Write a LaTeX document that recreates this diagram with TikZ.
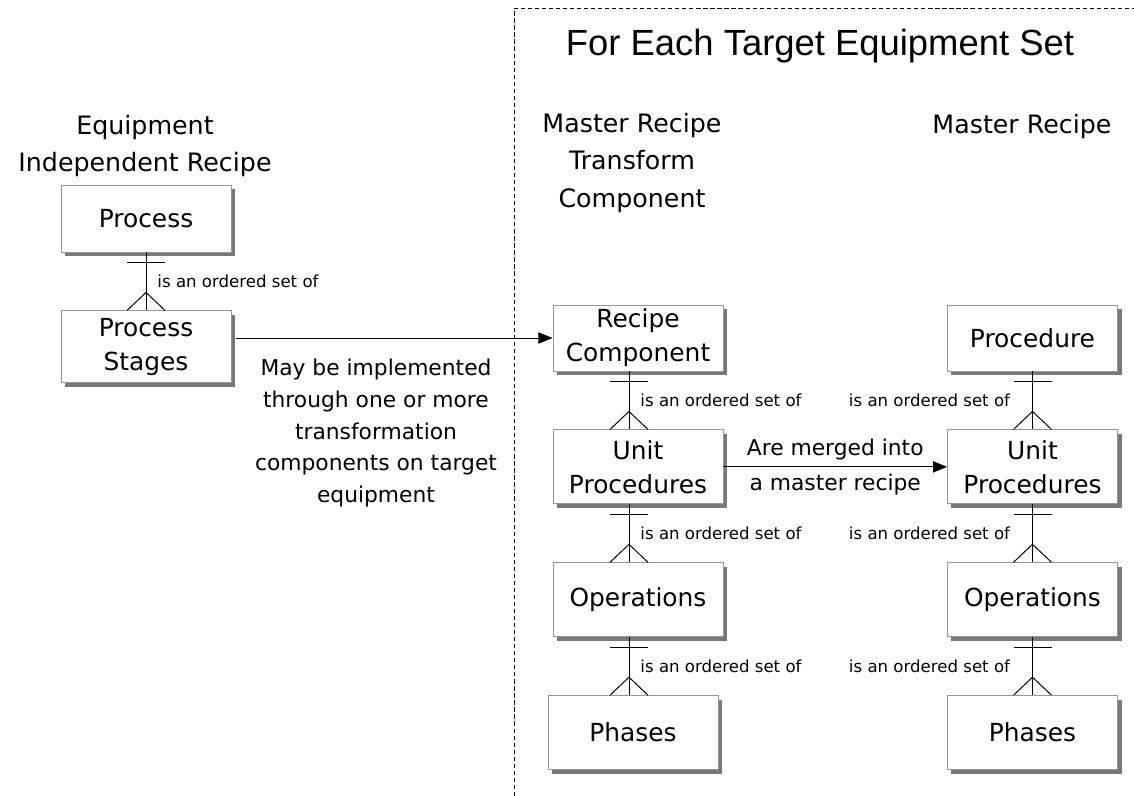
\documentclass[tikz,border=0pt]{standalone}
\usepackage{fontspec}
\setmainfont{DejaVu Sans}
\newfontfamily\titlefont{Liberation Sans}
\usepackage{xcolor}
\usepackage{tikz}
\usetikzlibrary{arrows.meta, positioning, shadows}
\definecolor{boxline}{RGB}{150,150,150}
\definecolor{boxshade}{RGB}{120,120,120}

\begin{document}
\begin{tikzpicture}[
    x=0.025cm, y=0.025cm,
    node distance=1.45cm,
    line width=0.7pt,
    box/.style={rectangle, draw=boxline, line width=0.6pt, fill=white, minimum width=4.25cm, minimum height=#1, align=center, inner sep=0pt,
        font=\fontsize{17.7}{24}\selectfont,
        drop shadow={shadow xshift=0.1cm, shadow yshift=-0.1cm, fill=boxshade, opacity=1}},
    box/.default=1.85cm,
    head/.style={align=center, font=\fontsize{18}{26.9}\selectfont},
    rel/.style={inner sep=0pt, font=\fontsize{11.8}{14}\selectfont},
    note/.style={align=center, font=\fontsize{15.5}{22.7}\selectfont}
]
\useasboundingbox (0,0) rectangle (1134,-796);

% frame round the target equipment part
\draw[line width=0.5pt, dash pattern=on 3pt off 2pt] (514,-796) -- (514,-8) -- (1134,-8);
\node[font=\titlefont\fontsize{25.9}{30}\selectfont] (title) at (820,-46) {For Each Target Equipment Set};

\node[head] (eir) at (145,-146) {Equipment\\Independent Recipe};
\node[head] (mrtc) at (632,-163) {Master Recipe\\Transform\\Component};
\node[head] (mr) at (1022,-127) {Master Recipe};

\node[box=1.675cm] (proc) at (146,-218.5) {Process};
\node[box=1.8cm, below=of proc] (stage) {Process\\Stages};

\node[box=1.65cm] (rc) at (638,-338) {Recipe\\Component};
\node[box, below=of rc] (unitL) {Unit\\Procedures};
\node[box, below=of unitL] (opsL) {Operations};
\node[box, below=of opsL, xshift=-0.125cm] (phL) {Phases};

\node[box=1.65cm] (procd) at (1032.5,-338) {Procedure};
\node[box, below=of procd] (unitR) {Unit\\Procedures};
\node[box, below=of unitR] (opsR) {Operations};
\node[box, below=of opsR] (phR) {Phases};

\draw[-{Triangle[length=10pt, width=8pt]}] ([xshift=0.12cm]stage.east |- rc.west) -- (rc.west);
\node[note] (impl) at (376,-433) {May be implemented\\through one or more\\transformation\\components on target\\equipment};

\draw[-{Triangle[length=10pt, width=8pt]}] (unitL.east) -- (unitR.west)
    node[note, midway, above=1pt] (mrg) {Are merged into}
    node[note, midway, below=1pt] (mrg2) {a master recipe};

% ordered set links, label on the right
\foreach \a/\b/\dx in {proc/stage/0cm, rc/unitL/-0.225cm, unitL/opsL/-0.225cm, opsL/phL/-0.225cm}{
    \draw ([xshift=\dx]\a.south) coordinate (t) -- (t |- \b.north) coordinate (u)
        node[rel, midway, anchor=west, xshift=0.275cm] {is an ordered set of};
    \draw (t) ++(-19,-10) -- ++(38,0);
    \draw (u) ++(-19,0) -- ++(19,18) -- ++(19,-18);
}
% ordered set links, label on the left
\foreach \a/\b in {procd/unitR, unitR/opsR, opsR/phR}{
    \draw (\a.south) coordinate (t) -- (t |- \b.north) coordinate (u)
        node[rel, midway, anchor=east, xshift=-0.55cm] {is an ordered set of};
    \draw (t) ++(-19,-10) -- ++(38,0);
    \draw (u) ++(-19,0) -- ++(19,18) -- ++(19,-18);
}
\end{tikzpicture}
\end{document}
